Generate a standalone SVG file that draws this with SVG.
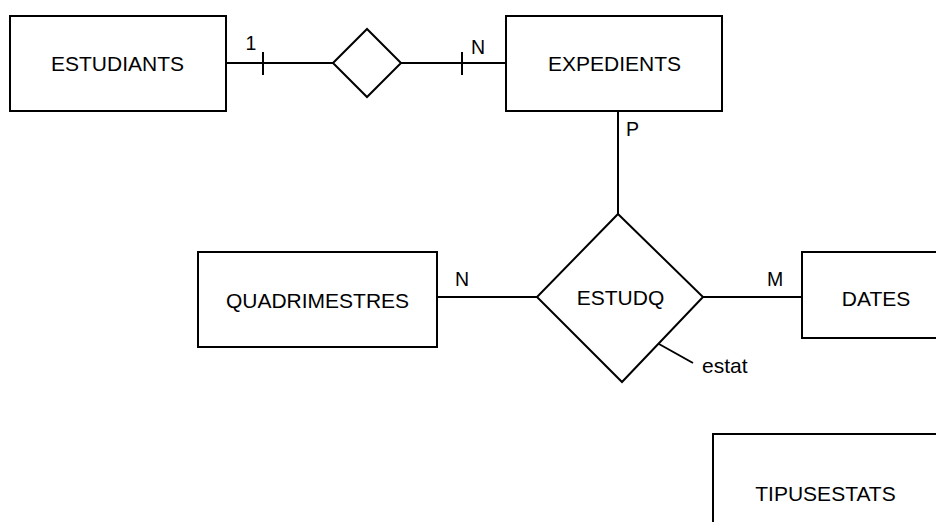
<svg xmlns="http://www.w3.org/2000/svg" width="936" height="522" viewBox="0 0 936 522">
<style>
.box{fill:#fff;stroke:#000;stroke-width:2}
.ln{fill:none;stroke:#000;stroke-width:2}
.t{font-family:"Liberation Sans",Arial,sans-serif;font-size:21px;fill:#000;text-anchor:middle}
.lb{font-family:"Liberation Sans",Arial,sans-serif;font-size:19.5px;fill:#000}
</style>
<rect width="936" height="522" fill="#fff"/>
<g id="connectors">
<line class="ln" x1="226" y1="63" x2="333" y2="63"/>
<line class="ln" x1="263" y1="52" x2="263" y2="75"/>
<line class="ln" x1="401" y1="63" x2="506" y2="63"/>
<line class="ln" x1="462" y1="52" x2="462" y2="75"/>
<line class="ln" x1="618" y1="111" x2="618" y2="214"/>
<line class="ln" x1="436" y1="297" x2="537" y2="297"/>
<line class="ln" x1="703" y1="297" x2="802" y2="297"/>
<line class="ln" x1="659" y1="344" x2="693" y2="363"/>
<text class="lb" x="245.5" y="50">1</text>
<text class="lb" x="471" y="54">N</text>
<text class="lb" x="626" y="136">P</text>
<text class="lb" x="455" y="286">N</text>
<text class="lb" x="767" y="286">M</text>
<text class="lb" x="702" y="373" style="font-size:21px">estat</text>
</g>
<g id="estudiants">
<rect class="box" x="10" y="16" width="216" height="95"/>
<text class="t" x="117.5" y="70.7">ESTUDIANTS</text>
</g>
<g id="rel1">
<polygon class="box" points="333,63 367,29 401,63 367,97"/>
</g>
<g id="expedients">
<rect class="box" x="506" y="16" width="216" height="95"/>
<text class="t" x="614.5" y="70.7">EXPEDIENTS</text>
</g>
<g id="quadrimestres">
<rect class="box" x="198" y="252" width="239" height="95"/>
<text class="t" x="317.5" y="308">QUADRIMESTRES</text>
</g>
<g id="estudq">
<polygon class="box" points="618,214 703,297 622,382 537,297"/>
<text class="t" x="620.5" y="305">ESTUDQ</text>
</g>
<g id="dates">
<rect class="box" x="802" y="252" width="148" height="86"/>
<text class="t" x="876" y="305.5">DATES</text>
</g>
<g id="tipusestats">
<rect class="box" x="713" y="434" width="226" height="120"/>
<text class="t" x="825.5" y="500.7">TIPUSESTATS</text>
</g>
</svg>
